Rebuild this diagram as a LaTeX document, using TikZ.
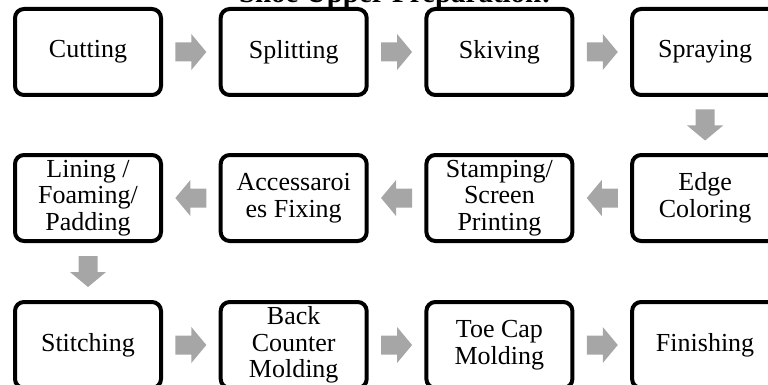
\documentclass[tikz,border=0pt]{standalone}
\usepackage{fontspec}
\setmainfont{Liberation Serif}
\usetikzlibrary{calc}
\definecolor{arrowgray}{RGB}{166,166,166}
\newcommand\blockarr[2]{%
  \fill[arrowgray, shift={(#1)}, rotate=#2] (-15.5,-9.5) -- (0.5,-9.5) -- (0.5,-18) -- (15.5,0) -- (0.5,18) -- (0.5,9.5) -- (-15.5,9.5) -- cycle;}
\begin{document}
\begin{tikzpicture}[x=1pt,y=-1pt,
  stepbox/.style={draw=black, line width=4pt, rounded corners=9pt, minimum width=146pt, minimum height=86pt, align=center, inner sep=0pt, font=\fontsize{26}{26.5}\selectfont},
  titletext/.style={font=\fontsize{29}{30}\selectfont\bfseries, inner sep=0pt, anchor=base}]
\useasboundingbox (0,0) rectangle (768,385);
\clip (0,0) rectangle (768,385);
\node[titletext] (title) at (395,3) {Shoe Upper Preparation:};
% row 1
\node[stepbox] (cut) at (88,52) {Cutting};
\node[stepbox] (spl) at (293.7,52) {Splitting};
\node[stepbox] (ski) at (499.4,52) {Skiving};
\node[stepbox] (spr) at (705.1,52) {Spraying};
% row 2
\node[stepbox] (edg) at (705.1,198) {Edge\\Coloring};
\node[stepbox] (sta) at (499.4,198) {Stamping/\\Screen\\Printing};
\node[stepbox] (acc) at (293.7,198) {Accessaroi\\es Fixing};
\node[stepbox] (lin) at (88,198) {Lining /\\Foaming/\\Padding};
% row 3
\node[stepbox] (sti) at (88,345) {Stitching};
\node[stepbox] (bac) at (293.7,345) {Back\\Counter\\Molding};
\node[stepbox] (toe) at (499.4,345) {Toe Cap\\Molding};
\node[stepbox] (fin) at (705.1,345) {Finishing};
% arrow positions
\coordinate (a1) at ($(cut.east)!0.5!(spl.west)$);
\coordinate (a2) at ($(spl.east)!0.5!(ski.west)$);
\coordinate (a3) at ($(ski.east)!0.5!(spr.west)$);
\coordinate (a4) at ($(spr.south)!0.5!(edg.north)$);
\coordinate (a5) at ($(edg.west)!0.5!(sta.east)$);
\coordinate (a6) at ($(sta.west)!0.5!(acc.east)$);
\coordinate (a7) at ($(acc.west)!0.5!(lin.east)$);
\coordinate (a8) at ($(lin.south)!0.5!(sti.north)$);
\coordinate (a9) at ($(sti.east)!0.5!(bac.west)$);
\coordinate (a10) at ($(bac.east)!0.5!(toe.west)$);
\coordinate (a11) at ($(toe.east)!0.5!(fin.west)$);
\blockarr{a1}{0}
\blockarr{a2}{0}
\blockarr{a3}{0}
\blockarr{a4}{-90}
\blockarr{a5}{180}
\blockarr{a6}{180}
\blockarr{a7}{180}
\blockarr{a8}{-90}
\blockarr{a9}{0}
\blockarr{a10}{0}
\blockarr{a11}{0}
\end{tikzpicture}
\end{document}
